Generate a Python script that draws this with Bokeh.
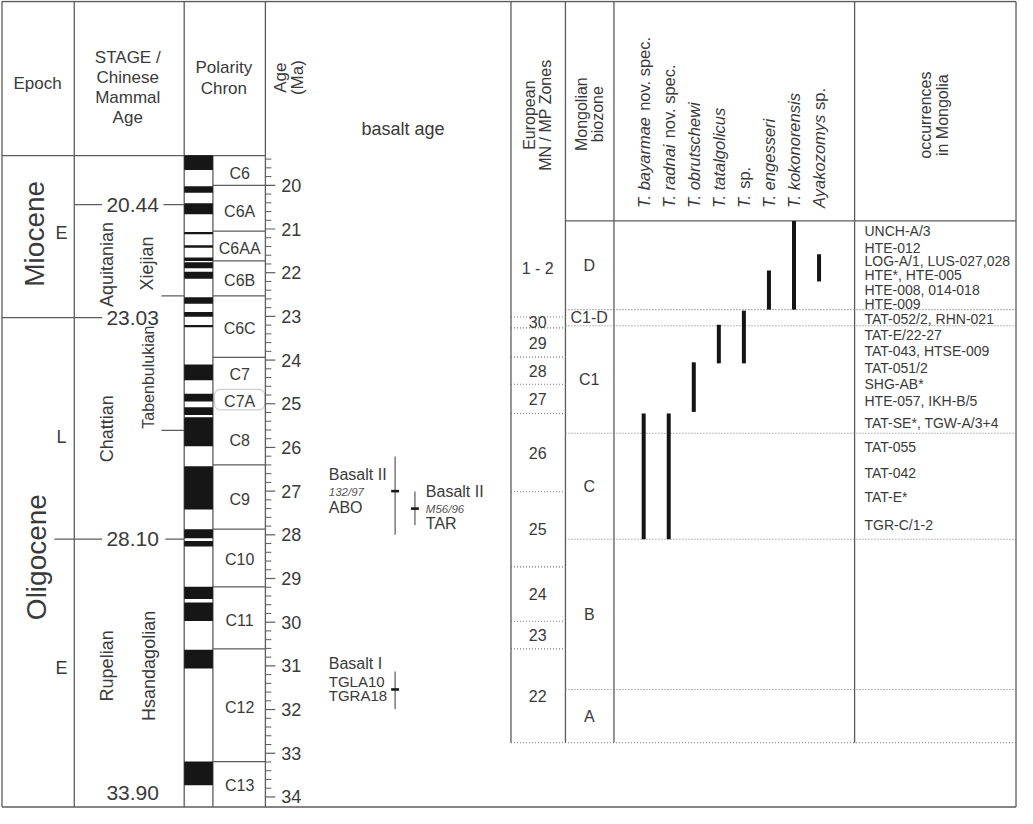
import numpy as np
from bokeh.plotting import figure
from bokeh.models import Range1d, BoxAnnotation
from bokeh.core.properties import value
from bokeh.embed import file_html
from bokeh.resources import INLINE

# ---------------------------------------------------------------- data
# Geomagnetic polarity time scale: normal-polarity (black) intervals, Ma
normal_top = [19.31, 20.02, 20.41, 21.07, 21.37, 21.65, 21.76, 21.98, 22.56, 22.90, 23.20,
              24.10, 24.77, 25.08, 25.31, 26.43, 27.87, 28.14, 29.19, 29.55, 30.63, 33.19]
normal_base = [19.65, 20.17, 20.66, 21.12, 21.43, 21.73, 21.90, 22.14, 22.71, 23.01, 23.25,
               24.46, 24.95, 25.26, 25.97, 27.42, 28.08, 28.27, 29.47, 29.97, 31.06, 33.73]
chron_names = ["C6", "C6A", "C6AA", "C6B", "C6C", "C7", "C7A", "C8", "C9", "C10", "C11", "C12", "C13"]
chron_label_age = [19.73, 20.59, 21.45, 22.17, 23.28, 24.34, 24.95, 25.84, 27.19, 28.57, 29.95, 31.95, 33.74]
chron_bounds = [20.00, 21.05, 21.73, 22.53, 23.94, 26.40, 27.87, 29.19, 30.61, 33.19]
c7a_range = [24.67, 25.14]

# Stage / Chinese mammal age
stage_bound_ages = [20.44, 23.03, 28.10, 33.90]
stage_bound_labels = ["20.44", "23.03", "28.10", "33.90"]
cma_bound_ages = [22.53, 25.61]
epochs = ["Miocene", "Oligocene"]
epoch_label_age = [21.11, 28.51]
subepochs = ["E", "L", "E"]
subepoch_age = [21.09, 25.77, 31.04]
stages = ["Aquitanian", "Chattian", "Rupelian"]
stage_label_age = [21.81, 25.57, 31.00]
cmas = ["Xiejian", "Tabenbulukian", "Hsandagolian"]
cma_label_age = [21.79, 24.39, 31.00]

# Age axis
age_major = list(range(20, 35))
age_minor = [round(v, 1) for v in np.arange(19.4, 34.01, 0.2) if abs(v - round(v)) > 0.05]

# Basalt ages (Ma)
basalt_age = [27.00, 27.40, 31.54]
basalt_min = [26.21, 27.01, 31.13]
basalt_max = [28.00, 27.78, 31.99]
basalt_title = ["Basalt II", "Basalt II", "Basalt I"]
basalt_sample = ["132/97", "M56/96", ""]
basalt_site = ["ABO", "TAR", "TGLA10\nTGRA18"]

# Right panel: relative biostratigraphic level (0 = top of panel, 100 = base)
mn_zones = ["1 - 2", "30", "29", "28", "27", "26", "25", "24", "23", "22"]
mn_base = [18.4, 20.5, 26.1, 31.3, 36.9, 51.9, 66.3, 76.7, 82.0, 100.0]
biozones = ["D", "C1-D", "C1", "C", "B", "A"]
biozone_base = [17.0, 20.1, 40.7, 61.0, 89.8, 100.0]
taxa_italic = ["T. bayarmae", "T. radnai", "T. obrutschewi", "T. tatalgolicus", "T.",
               "T. engesseri", "T. kokonorensis", "Ayakozomys"]
taxa_plain = ["nov. spec.", "nov. spec.", "", "", "sp.", "", "", "sp."]
taxa_top = [36.9, 36.9, 27.1, 19.9, 17.2, 9.5, 0.0, 6.4]
taxa_base = [61.0, 61.0, 36.6, 27.3, 27.3, 17.0, 17.0, 11.6]
occurrences = ["UNCH-A/3", "HTE-012", "LOG-A/1, LUS-027,028", "HTE*, HTE-005",
               "HTE-008, 014-018", "HTE-009", "TAT-052/2, RHN-021", "TAT-E/22-27",
               "TAT-043, HTSE-009", "TAT-051/2", "SHG-AB*", "HTE-057, IKH-B/5",
               "TAT-SE*, TGW-A/3+4", "TAT-055", "TAT-042", "TAT-E*", "TGR-C/1-2"]
occurrence_level = [1.9, 5.1, 7.6, 10.4, 13.3, 15.9, 18.8, 21.8, 25.0, 28.2, 31.3, 34.5,
                    38.8, 43.4, 48.3, 53.0, 58.3]

# ---------------------------------------------------------------- figure
FONT = value("Liberation Sans")
TC = "#3a3a3a"
LC = "#5c5c5c"
DC = "#777777"

Y0, Y1 = 822.5, 5.0          # layout units (top-down)
p = figure(width=1017, height=808, x_range=Range1d(5.5, 1032.5), y_range=Range1d(Y0, Y1),
           x_axis_type=None, y_axis_type=None, toolbar_location=None,
           output_backend="svg", min_border=0, outline_line_color=None,
           background_fill_color="white", border_fill_color="white")
# age scale (Ma) and relative level scale for the right panel
p.extra_y_ranges = {
    "age": Range1d(20 + (Y0 - 192) / 44.2, 20 + (Y1 - 192) / 44.2),
    "zone": Range1d((Y0 - 228) / 5.28, (Y1 - 228) / 5.28),
}


def txt(x, y, t, size, rng="default", angle=0.0, align="center", base="middle",
        style="normal", color=TC, yoff=0):
    p.text(x=x, y=y, text=t, y_range_name=rng, angle=angle, text_align=align,
           text_baseline=base, text_font=FONT, text_font_size=size,
           text_font_style=value(style), text_color=color, y_offset=yoff)


# frame and column lines (layout units)
p.segment(x0=[7, 7, 7, 1031, 80, 191, 273, 220, 7, 521, 576, 625, 868, 576],
          y0=[6, 821, 6, 6, 6, 6, 6, 162, 162, 6, 6, 6, 6, 228],
          x1=[1031, 1031, 7, 1031, 80, 191, 273, 220, 273, 521, 576, 625, 868, 1031],
          y1=[6, 821, 821, 821, 821, 821, 821, 821, 162, 756, 756, 756, 756, 228],
          line_color=LC, line_width=1.3)

# ---- headers, left
txt([43], [89], ["Epoch"], "17px")
txt([134] * 4, [63, 83, 103, 123], ["STAGE /", "Chinese", "Mammal", "Age"], "17px")
txt([231, 231], [73, 94], ["Polarity", "Chron"], "17px")
txt([288, 305], [83, 83], ["Age", "(Ma)"], "17px", angle=np.pi / 2)
txt([412], [135], ["basalt age"], "18px")

# ---- polarity column
p.quad(left=191, right=220, top=normal_top, bottom=normal_base, y_range_name="age",
       fill_color="#161616", line_color=None)
p.segment(x0=220, x1=273, y0=chron_bounds, y1=chron_bounds, y_range_name="age",
          line_color=LC, line_width=1.2)
p.add_layout(BoxAnnotation(left=221.5, right=272.5, top=c7a_range[0], bottom=c7a_range[1],
                           y_range_name="age", fill_color=None, fill_alpha=0.0,
                           line_color=LC, line_width=1.2, border_radius=6, level="underlay"))
txt([247] * len(chron_names), chron_label_age, chron_names, "16px", rng="age")

# ---- age axis
p.segment(x0=273, x1=283, y0=age_major, y1=age_major, y_range_name="age",
          line_color=LC, line_width=1.2)
p.segment(x0=273, x1=279, y0=age_minor, y1=age_minor, y_range_name="age",
          line_color=LC, line_width=1.0)
txt([289] * len(age_major), age_major, [str(a) for a in age_major], "18px", rng="age",
    align="left")

# ---- epochs / stages
txt([40, 42], epoch_label_age, epochs, "28px", rng="age", angle=np.pi / 2)
txt([67] * 3, subepoch_age, subepochs, "18px", rng="age")
txt([113] * 3, stage_label_age, stages, "18px", rng="age", angle=np.pi / 2)
txt([153, 155, 155], cma_label_age, cmas, ["18px", "16px", "18px"], rng="age", angle=np.pi / 2)
txt([139] * 4, stage_bound_ages, stage_bound_labels, "21px", rng="age")
seg_l = {20.44: [(80, 108), (170, 191)], 23.03: [(7, 108)], 28.10: [(60, 108), (172, 191)],
         33.90: []}
bx0, bx1, by = [], [], []
for a in stage_bound_ages:
    for (u, v) in seg_l[a]:
        bx0.append(u); bx1.append(v); by.append(a)
for a in cma_bound_ages:
    bx0.append(168); bx1.append(191); by.append(a)
p.segment(x0=bx0, x1=bx1, y0=by, y1=by, y_range_name="age", line_color=LC, line_width=1.2)

# ---- basalt ages
bx = [404, 424, 404]
p.segment(x0=bx, x1=bx, y0=basalt_min, y1=basalt_max, y_range_name="age",
          line_color="#666666", line_width=1.3)
p.segment(x0=[x - 4 for x in bx], x1=[x + 4 for x in bx], y0=basalt_age, y1=basalt_age,
          y_range_name="age", line_color="#1a1a1a", line_width=2.6)
lx = [337, 435, 337]
offs = [(-17, 1, 16), (-17, 0, 15), (-26, -8, 6)]
for i in range(3):
    o = offs[i]
    txt([lx[i]], [basalt_age[i]], [basalt_title[i]], "16px", rng="age", align="left", yoff=o[0])
    if basalt_sample[i]:
        txt([lx[i]], [basalt_age[i]], [basalt_sample[i]], "11.5px", rng="age", align="left",
            style="italic", color="#555555", yoff=o[1])
        txt([lx[i]], [basalt_age[i]], [basalt_site[i]], "16px", rng="age", align="left", yoff=o[2])
    else:
        a, b = basalt_site[i].split("\n")
        txt([lx[i]], [basalt_age[i]], [a], "15px", rng="age", align="left", yoff=o[1])
        txt([lx[i]], [basalt_age[i]], [b], "15px", rng="age", align="left", yoff=o[2])

# ---- right panel headers
txt([540, 556], [121, 121], ["European", "MN / MP Zones"], "16px", angle=np.pi / 2)
txt([592, 608], [120, 120], ["Mongolian", "biozone"], "16px", angle=np.pi / 2)
txt([940, 957], [121, 121], ["occurrences", "in Mongolia"], "16px", angle=np.pi / 2)

AW = {"T": .611, ".": .278, " ": .278, "b": .556, "a": .556, "y": .5, "r": .333, "m": .833,
      "e": .556, "n": .556, "o": .556, "v": .5, "s": .5, "p": .556, "c": .5, "d": .556,
      "i": .222, "k": .5, "z": .5, "A": .667, "l": .222, "t": .278, "g": .556, "u": .556,
      "h": .556, "w": .722}
SP = 16.5
taxa_x = [655 + 25.3 * i for i in range(len(taxa_italic))]
for i, (it, pl) in enumerate(zip(taxa_italic, taxa_plain)):
    txt([taxa_x[i]], [215], [it], f"{SP}px", angle=np.pi / 2, align="left", style="italic")
    if pl:
        w = sum(AW.get(c, .556) for c in it + " ") * SP
        txt([taxa_x[i]], [215], [pl], f"{SP}px", angle=np.pi / 2, align="left", yoff=-w)

# ---- zone lines
p.segment(x0=576, x1=1031, y0=biozone_base[:-1], y1=biozone_base[:-1], y_range_name="zone",
          line_color=DC, line_width=1.1, line_dash="1 2")
p.segment(x0=[521], x1=[1031], y0=[biozone_base[-1]], y1=[biozone_base[-1]], y_range_name="zone",
          line_color=DC, line_width=1.1, line_dash="1 2")
p.segment(x0=521, x1=576, y0=mn_base[:-1], y1=mn_base[:-1], y_range_name="zone",
          line_color=DC, line_width=1.1, line_dash="1 2")

mn_tops = [0.0] + mn_base[:-1]
txt([548] * len(mn_zones), [(a + b) / 2 for a, b in zip(mn_tops, mn_base)], mn_zones, "16px",
    rng="zone")
bz_tops = [0.0] + biozone_base[:-1]
txt([600] * len(biozones), [(a + b) / 2 for a, b in zip(bz_tops, biozone_base)], biozones,
    "16px", rng="zone")

# ---- taxon ranges
p.segment(x0=taxa_x, x1=taxa_x, y0=taxa_top, y1=taxa_base, y_range_name="zone",
          line_color="#141414", line_width=4)

# ---- occurrences
txt([878] * len(occurrences), occurrence_level, occurrences, "14px", rng="zone", align="left")

open("out.html", "w").write(file_html(p, INLINE))
